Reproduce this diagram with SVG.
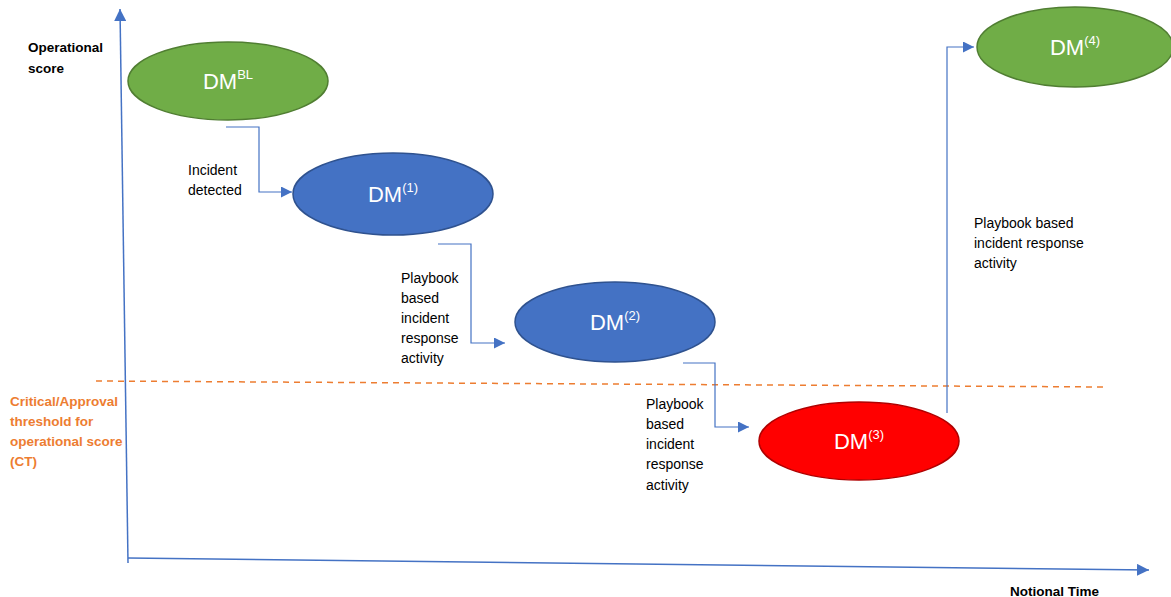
<svg xmlns="http://www.w3.org/2000/svg" width="1171" height="597" viewBox="0 0 1171 597">
  <style>
    .lbl { font-family: "Liberation Sans", Arial, sans-serif; font-size: 14px; fill: #000; }
    .axis-lbl { font-family: "Liberation Sans", Arial, sans-serif; font-size: 13.5px; font-weight: bold; fill: #000; }
    .ct-lbl { font-family: "Liberation Sans", Arial, sans-serif; font-size: 13.5px; font-weight: bold; fill: #ED7D31; }
    .dm { font-family: "Liberation Sans", Arial, sans-serif; font-size: 22px; fill: #fff; text-anchor: middle; }
    .sup { font-size: 13px; }
    .green { fill: #70AD47; stroke: #507E32; stroke-width: 1.5; }
    .blue { fill: #4472C4; stroke: #2F528F; stroke-width: 1.5; }
    .red { fill: #FF0000; stroke: #B00000; stroke-width: 1.5; }
    .axis { stroke: #4472C4; stroke-width: 1.5; fill: none; }
    .conn { stroke: #4472C4; stroke-width: 1.2; fill: none; }
    .threshold { stroke: #ED7D31; stroke-width: 1.5; stroke-dasharray: 6 5; fill: none; }
  </style>
  <defs>
    <marker id="arrow" viewBox="0 0 10 10" refX="10" refY="5" markerWidth="11" markerHeight="11" markerUnits="userSpaceOnUse" orient="auto">
      <path d="M0,0 L10,5 L0,10 z" fill="#4472C4"/>
    </marker>
    <marker id="axisArrow" viewBox="0 0 10 10" refX="10" refY="5" markerWidth="12" markerHeight="12" markerUnits="userSpaceOnUse" orient="auto">
      <path d="M0,0 L10,5 L0,10 z" fill="#4472C4"/>
    </marker>
  </defs>

  <rect width="1171" height="597" fill="#fff"/>

  <!-- axes -->
  <g id="axes">
    <line class="axis" x1="128" y1="563" x2="120" y2="9" marker-end="url(#axisArrow)"/>
    <line class="axis" x1="128" y1="558" x2="1149" y2="570" marker-end="url(#axisArrow)"/>
    <text class="axis-lbl" x="28" y="52">Operational</text>
    <text class="axis-lbl" x="28" y="73">score</text>
    <text class="axis-lbl" x="1010" y="596">Notional Time</text>
  </g>

  <!-- critical / approval threshold -->
  <g id="threshold">
    <line class="threshold" x1="96" y1="381" x2="1106" y2="387"/>
    <text class="ct-lbl" x="10" y="406">Critical/Approval</text>
    <text class="ct-lbl" x="10" y="426">threshold for</text>
    <text class="ct-lbl" x="10" y="446">operational score</text>
    <text class="ct-lbl" x="10" y="466">(CT)</text>
  </g>

  <!-- transitions between states -->
  <g id="connectors">
    <polyline class="conn" points="226,127 259,127 259,192 292,192" marker-end="url(#arrow)"/>
    <polyline class="conn" points="438,244 471,244 471,343 505,343" marker-end="url(#arrow)"/>
    <polyline class="conn" points="683,363 715,363 715,427 749,427" marker-end="url(#arrow)"/>
    <polyline class="conn" points="947,413 947,47 974,47" marker-end="url(#arrow)"/>
    <text class="lbl" x="188" y="175">Incident</text>
    <text class="lbl" x="188" y="195">detected</text>
    <text class="lbl" x="401" y="283">Playbook</text>
    <text class="lbl" x="401" y="303">based</text>
    <text class="lbl" x="401" y="323">incident</text>
    <text class="lbl" x="401" y="343">response</text>
    <text class="lbl" x="401" y="363">activity</text>
    <text class="lbl" x="646" y="409">Playbook</text>
    <text class="lbl" x="646" y="429">based</text>
    <text class="lbl" x="646" y="449">incident</text>
    <text class="lbl" x="646" y="469">response</text>
    <text class="lbl" x="646" y="490">activity</text>
    <text class="lbl" x="974" y="228">Playbook based</text>
    <text class="lbl" x="974" y="248">incident response</text>
    <text class="lbl" x="974" y="268">activity</text>
  </g>

  <!-- states -->
  <g id="dm-bl">
    <ellipse class="green" cx="228" cy="81" rx="100" ry="39"/>
    <text class="dm" x="228" y="89">DM<tspan class="sup" dy="-10">BL</tspan></text>
  </g>
  <g id="dm-1">
    <ellipse class="blue" cx="393" cy="194" rx="100" ry="41"/>
    <text class="dm" x="393" y="202">DM<tspan class="sup" dy="-10">(1)</tspan></text>
  </g>
  <g id="dm-2">
    <ellipse class="blue" cx="615" cy="322" rx="100" ry="40"/>
    <text class="dm" x="615" y="330">DM<tspan class="sup" dy="-10">(2)</tspan></text>
  </g>
  <g id="dm-3">
    <ellipse class="red" cx="859" cy="441" rx="100" ry="39"/>
    <text class="dm" x="859" y="449">DM<tspan class="sup" dy="-10">(3)</tspan></text>
  </g>
  <g id="dm-4">
    <ellipse class="green" cx="1075" cy="47" rx="98" ry="40"/>
    <text class="dm" x="1075" y="55">DM<tspan class="sup" dy="-10">(4)</tspan></text>
  </g>
</svg>
